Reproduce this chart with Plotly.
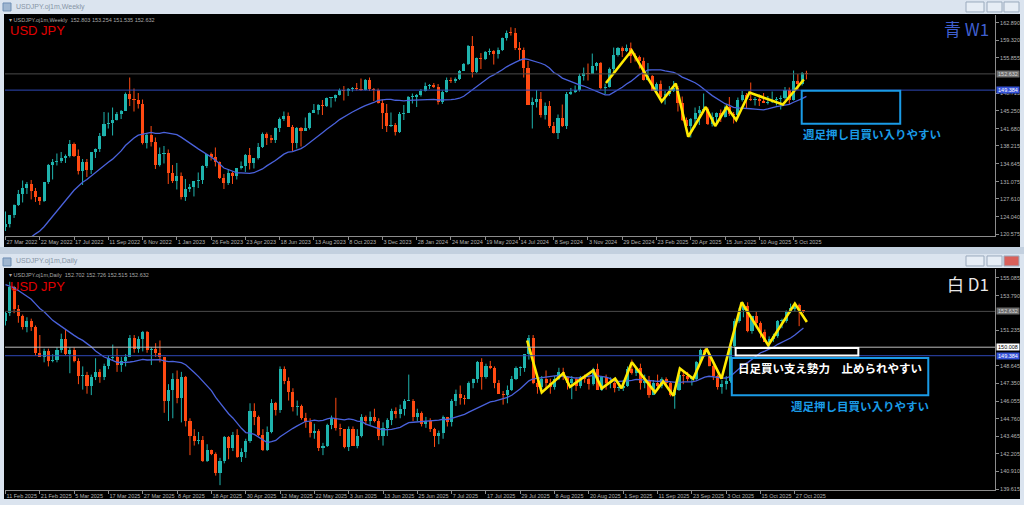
import plotly.graph_objects as go
import pandas as pd

W, H = 1024, 505

# ---------------- Weekly USDJPY (week of 27 Mar 2022 ... 26 Oct 2025) ----------------
w_open = [122.0,122.5,124.3,126.4,128.5,129.8,130.6,129.2,127.9,127.1,
          130.9,134.4,135.0,135.2,135.7,136.1,138.6,136.1,133.2,135.0,
          133.4,136.9,137.6,140.2,142.6,142.9,143.4,144.7,145.3,148.7,
          147.7,147.5,146.6,138.8,140.4,139.1,134.3,136.6,136.7,132.8,
          131.1,132.1,127.9,129.6,129.9,131.2,131.4,134.1,136.5,135.9,
          135.0,131.8,130.7,132.8,132.2,133.8,134.2,136.3,134.8,135.7,
          137.9,140.6,139.9,139.4,141.8,143.7,144.3,142.1,138.8,141.8,
          141.2,141.8,144.9,145.4,146.4,146.2,147.8,147.8,148.4,149.4,
          149.3,149.6,149.9,149.6,149.4,151.5,149.6,149.4,146.8,144.9,
          142.2,142.4,141.0,144.6,144.9,148.1,148.1,148.4,149.3,150.2,
          150.5,150.1,147.1,149.0,151.4,151.3,151.6,153.3,154.6,158.3,
          153.0,155.8,155.6,157.0,157.3,156.7,157.4,159.8,160.9,160.8,
          157.9,157.5,153.8,146.5,147.0,147.6,144.4,146.2,142.3,140.8,
          143.9,142.2,148.7,149.1,149.5,152.3,152.9,152.6,154.3,154.8,
          149.8,150.0,153.6,156.4,157.8,157.3,157.8,156.3,156.0,155.2,
          151.4,152.3,149.3,150.6,148.0,148.6,149.3,149.8,146.9,143.5,
          142.2,143.6,144.9,145.4,145.7,142.6,144.0,144.9,144.1,146.1,
          144.6,144.5,147.4,148.5,147.7,147.4,147.7,147.2,146.9,147.0,
          147.4,147.7,147.9,149.5,147.5,151.2,150.6,152.803]
w_high = [125.1,124.4,126.5,129.4,131.3,131.0,131.4,129.8,128.0,131.0,
          134.6,135.6,136.7,137.0,136.5,139.4,138.9,137.5,135.6,135.6,
          137.0,137.7,140.8,145.0,144.9,145.9,145.0,145.4,148.9,151.9,
          149.7,148.8,147.5,140.8,142.2,139.9,137.9,138.2,137.5,134.4,
          134.8,132.9,131.6,130.6,131.2,132.9,134.3,136.5,136.9,137.9,
          135.1,132.6,133.6,133.0,133.8,135.1,136.6,137.8,135.8,138.8,
          140.9,140.9,140.4,141.9,143.9,145.1,144.9,142.4,142.0,142.0,
          143.9,144.9,146.6,146.6,147.4,147.9,147.9,148.5,149.7,150.2,
          149.8,150.0,150.8,151.7,151.6,151.9,149.8,149.7,147.5,146.6,
          144.9,142.8,145.0,146.4,148.2,148.7,148.6,149.6,150.9,150.6,
          150.8,150.6,149.3,151.9,151.9,151.9,153.4,154.8,158.4,160.2,
          155.9,156.8,157.2,157.7,157.4,157.9,159.9,161.3,161.95,161.8,
          159.0,157.9,155.2,147.9,149.4,149.0,146.9,147.2,143.0,144.5,
          146.5,149.0,149.8,150.3,152.7,153.9,154.7,156.7,155.0,155.0,
          150.7,153.9,157.9,158.0,158.1,158.5,158.9,156.8,156.3,155.9,
          154.8,152.4,150.9,151.3,149.2,150.2,151.2,150.2,148.1,143.9,
          143.8,145.9,146.2,148.7,145.9,144.9,144.9,145.5,146.3,148.0,
          145.0,147.9,149.2,148.8,150.9,148.0,148.5,148.8,148.2,149.1,
          148.0,148.3,150.0,149.9,153.3,152.6,153.0,153.254]
w_low = [121.2,121.9,123.8,126.2,126.9,128.6,127.5,127.0,126.4,127.0,
         130.6,131.5,134.3,134.8,134.8,135.9,136.0,132.5,130.4,132.0,
         132.6,135.8,137.0,140.1,141.7,140.3,143.3,143.6,145.2,146.2,
         145.1,145.7,138.5,137.7,138.1,133.6,134.1,134.7,130.6,130.8,
         129.5,127.5,127.2,129.0,128.1,129.8,130.6,133.8,135.3,134.1,
         131.6,129.6,130.4,130.6,131.5,133.5,133.0,133.5,133.7,135.5,
         137.8,138.4,138.8,138.8,141.0,143.2,142.1,137.2,137.7,138.1,
         141.2,141.5,144.8,144.5,144.4,146.0,145.9,147.1,148.3,147.3,
         148.2,149.1,149.3,149.2,149.3,149.2,147.2,146.7,141.6,141.0,
         142.0,140.3,140.8,143.4,144.8,146.7,146.0,148.1,149.1,149.6,
         149.8,146.5,146.6,148.9,150.8,150.8,151.4,153.2,154.4,151.9,
         152.8,153.6,155.4,156.4,154.5,155.7,157.2,159.3,160.3,157.4,
         155.4,151.9,146.4,141.7,145.9,143.9,143.5,141.8,140.7,139.6,
         142.0,141.6,148.4,148.8,149.1,151.3,151.3,152.6,153.3,149.5,
         148.6,149.9,152.8,156.1,156.0,157.0,154.8,155.1,153.7,151.3,
         151.3,149.3,148.6,147.3,146.5,148.2,149.0,145.1,143.2,141.6,
         139.9,141.9,142.4,145.1,142.4,142.1,142.4,143.0,143.9,144.2,
         142.7,144.2,147.1,145.8,147.2,146.3,146.2,146.9,146.5,146.8,
         146.3,145.5,147.5,146.6,147.3,149.4,150.3,151.535]
w_close = [122.5,124.3,126.4,128.5,129.8,130.6,129.2,127.9,127.1,130.9,
           134.4,135.0,135.2,135.7,136.1,138.6,136.1,133.2,135.0,133.4,
           136.9,137.6,140.2,142.6,142.9,143.4,144.7,145.3,148.7,147.7,
           147.5,146.6,138.8,140.4,139.1,134.3,136.6,136.7,132.8,131.1,
           132.1,127.9,129.6,129.9,131.2,131.4,134.1,136.5,135.9,135.0,
           131.8,130.7,132.8,132.2,133.8,134.2,136.3,134.8,135.7,137.9,
           140.6,139.9,139.4,141.8,143.7,144.3,142.1,138.8,141.8,141.2,
           141.8,144.9,145.4,146.4,146.2,147.8,147.8,148.4,149.4,149.3,
           149.6,149.9,149.6,149.4,151.5,149.6,149.4,146.8,144.9,142.2,
           142.4,141.0,144.6,144.9,148.1,148.1,148.4,149.3,150.2,150.5,
           150.1,147.1,149.0,151.4,151.3,151.6,153.3,154.6,158.3,153.0,
           155.8,155.6,157.0,157.3,156.7,157.4,159.8,160.9,160.8,157.9,
           157.5,153.8,146.5,147.0,147.6,144.4,146.2,142.3,140.8,143.9,
           142.2,148.7,149.1,149.5,152.3,152.9,152.6,154.3,154.8,149.8,
           150.0,153.6,156.4,157.8,157.3,157.8,156.3,156.0,155.2,151.4,
           152.3,149.3,150.6,148.0,148.6,149.3,149.8,146.9,143.5,142.2,
           143.6,144.9,145.4,145.7,142.6,144.0,144.9,144.1,146.1,144.6,
           144.5,147.4,148.5,147.7,147.4,147.7,147.2,146.9,147.0,147.4,
           147.7,147.9,149.5,147.5,151.2,150.6,152.9,152.632]
# closes of the 19 weeks before the first visible bar (feed the 20-period MA)
w_pre_close = [114.0,113.4,112.8,113.4,113.7,114.4,115.1,115.5,114.2,113.7,
               115.2,115.2,115.4,115.0,115.6,114.8,117.3,119.2,122.05]
w_ticktext = ["27 Mar 2022","22 May 2022","17 Jul 2022","11 Sep 2022","6 Nov 2022",
              "1 Jan 2023","26 Feb 2023","23 Apr 2023","18 Jun 2023","13 Aug 2023",
              "8 Oct 2023","3 Dec 2023","28 Jan 2024","24 Mar 2024","19 May 2024",
              "14 Jul 2024","8 Sep 2024","3 Nov 2024","29 Dec 2024","23 Feb 2025",
              "20 Apr 2025","15 Jun 2025","10 Aug 2025","5 Oct 2025"]
w_price_ticks = [162.890,159.320,155.855,148.715,145.250,141.680,138.215,
                 134.645,131.075,127.610,124.040,120.575]

# ---------------- Daily USDJPY (11 Feb 2025 ... 29 Oct 2025) ----------------
d_open = [151.9,152.5,154.4,152.8,152.3,151.5,151.9,151.5,149.6,149.3,
          149.7,149.0,149.1,149.8,150.6,149.5,149.8,149.0,147.9,148.0,
          147.2,147.8,148.2,147.8,148.6,149.2,149.3,148.7,149.0,149.3,
          150.7,149.9,150.6,151.1,149.8,149.9,149.6,149.3,146.1,146.9,
          147.7,146.3,147.8,144.6,143.5,143.1,143.2,141.7,142.5,142.2,
          140.8,141.7,143.4,142.6,143.6,142.0,142.3,143.1,145.3,144.9,
          143.6,142.5,143.8,145.9,145.4,148.4,147.5,146.7,145.6,145.7,
          144.8,144.5,143.7,143.9,142.6,142.8,144.3,144.8,144.1,144.0,
          142.7,144.0,142.8,143.5,144.9,144.6,144.9,144.6,143.5,144.1,
          144.7,145.3,145.1,145.5,146.1,146.1,144.9,145.2,144.4,144.6,
          144.0,143.5,143.7,144.9,144.5,146.1,146.6,146.3,146.2,147.4,
          147.7,148.9,147.8,148.6,148.5,147.4,146.6,146.5,146.9,147.7,
          148.5,148.5,149.5,150.7,147.4,147.1,147.7,147.4,147.1,147.7,
          148.2,147.8,147.4,147.7,147.2,147.8,147.7,147.3,148.4,146.9,
          147.8,147.4,147.4,147.0,147.0,147.2,148.4,148.1,148.5,147.4,
          147.5,146.5,147.4,147.2,147.7,147.4,146.5,146.9,148.0,147.9,
          147.7,147.7,148.9,149.8,149.5,148.6,147.9,147.1,147.3,147.5,
          150.1,151.9,152.7,153.0,151.2,152.3,151.8,151.1,150.4,150.6,
          150.8,151.9,151.9,152.6,152.803,153.1,152.702]
d_high = [152.6,154.8,154.5,153.1,152.4,152.2,152.1,151.6,150.9,149.9,
          149.9,149.5,150.0,151.0,151.3,150.0,150.0,149.2,148.6,148.2,
          148.0,149.2,148.4,148.8,149.4,150.2,149.9,149.3,149.5,150.9,
          150.9,150.8,151.2,151.2,150.0,150.3,150.5,149.3,147.3,148.1,
          148.3,148.2,147.9,144.8,144.0,143.8,143.5,142.9,142.5,142.3,
          141.9,143.5,143.5,143.8,144.0,142.6,143.3,145.9,145.9,145.0,
          144.0,144.2,146.2,146.0,148.6,148.6,147.8,147.0,146.1,145.8,
          145.2,144.8,144.4,144.0,143.0,144.4,145.0,146.3,144.4,144.0,
          144.2,144.2,144.0,145.1,145.0,145.3,145.5,144.8,144.5,144.8,
          145.5,145.6,145.8,146.2,148.0,146.2,145.5,145.3,144.9,144.8,
          144.1,143.9,145.0,144.9,146.2,146.9,147.2,146.5,147.5,147.7,
          149.0,149.2,148.8,149.0,148.6,147.6,146.8,147.2,147.9,148.6,
          148.6,149.5,150.9,150.9,147.7,147.9,148.3,147.7,147.9,148.5,
          148.5,147.9,147.9,147.8,147.9,148.0,147.8,148.5,148.8,147.9,
          148.0,147.8,147.5,147.4,147.6,148.6,149.1,148.5,148.8,148.0,
          147.9,147.6,148.0,147.8,147.8,147.5,147.0,148.1,148.3,148.2,
          147.9,149.0,149.9,149.9,149.6,148.9,148.0,147.6,147.9,150.5,
          152.1,152.9,153.3,153.3,152.3,152.6,151.9,151.3,150.8,151.0,
          152.0,152.1,152.7,153.2,153.27,153.2,152.726]
d_low = [151.6,152.3,152.5,151.8,151.3,151.1,151.2,149.4,149.3,148.9,
         148.6,148.9,148.9,149.6,149.4,148.1,148.9,147.3,146.9,146.6,
         146.5,147.6,147.4,147.6,148.4,149.0,148.2,148.2,148.6,149.3,
         149.6,149.6,149.7,149.6,148.7,149.3,148.9,145.2,144.6,144.8,
         145.9,144.5,144.2,142.1,142.8,142.9,141.6,141.6,142.1,140.6,
         139.9,141.5,141.8,142.4,141.9,141.6,141.9,143.0,144.3,143.5,
         142.4,142.4,143.7,145.0,145.2,147.3,146.1,145.3,145.0,144.7,
         144.1,143.4,143.3,142.4,142.1,142.7,144.0,143.9,143.5,142.6,
         142.4,142.8,142.6,143.4,144.3,144.3,144.5,143.2,142.8,143.5,
         144.3,144.8,144.8,145.0,146.1,144.6,144.6,144.2,144.1,143.8,
         142.7,142.9,143.3,144.2,144.2,145.7,145.8,145.8,146.2,147.0,
         147.4,146.9,147.7,148.4,147.0,146.6,145.8,145.9,146.8,147.6,
         147.9,148.2,149.1,147.3,146.6,146.9,147.0,146.6,146.9,147.6,
         147.6,146.9,146.2,146.8,147.0,147.4,146.9,147.2,146.9,146.8,
         146.9,147.0,146.7,146.8,146.8,147.1,148.0,147.9,146.9,147.0,
         146.3,146.5,147.0,147.0,147.2,146.4,145.5,146.8,147.3,147.5,
         147.2,147.6,148.8,149.3,148.6,147.6,146.9,146.6,146.9,147.4,
         149.9,151.8,152.2,151.1,151.0,151.4,150.7,150.4,149.9,150.4,
         150.7,151.4,151.8,152.5,152.6,151.55,152.515]
d_close = [152.5,154.4,152.8,152.3,151.5,151.9,151.5,149.6,149.3,149.7,
           149.0,149.1,149.8,150.6,149.5,149.8,149.0,147.9,148.0,147.2,
           147.8,148.2,147.8,148.6,149.2,149.3,148.7,149.0,149.3,150.7,
           149.9,150.6,151.1,149.8,149.9,149.6,149.3,146.1,146.9,147.7,
           146.3,147.8,144.6,143.5,143.1,143.2,141.7,142.5,142.2,140.8,
           141.7,143.4,142.6,143.6,142.0,142.3,143.1,145.3,144.9,143.6,
           142.5,143.8,145.9,145.4,148.4,147.5,146.7,145.6,145.7,144.8,
           144.5,143.7,143.9,142.6,142.8,144.3,144.8,144.1,144.0,142.7,
           144.0,142.8,143.5,144.9,144.6,144.9,144.6,143.5,144.1,144.7,
           145.3,145.1,145.5,146.1,146.1,144.9,145.2,144.4,144.6,144.0,
           143.5,143.7,144.9,144.5,146.1,146.6,146.3,146.2,147.4,147.7,
           148.9,147.8,148.6,148.5,147.4,146.6,146.5,146.9,147.7,148.5,
           148.5,149.5,150.7,147.4,147.1,147.7,147.4,147.1,147.7,148.2,
           147.8,147.4,147.7,147.2,147.8,147.7,147.3,148.4,146.9,147.8,
           147.4,147.4,147.0,147.0,147.2,148.4,148.1,148.5,147.4,147.5,
           146.5,147.4,147.2,147.7,147.4,146.5,146.9,148.0,147.9,147.7,
           147.7,148.9,149.8,149.5,148.6,147.9,147.1,147.3,147.5,150.1,
           151.9,152.7,153.0,151.2,152.3,151.8,151.1,150.4,150.6,150.8,
           151.9,151.9,152.6,152.9,153.1,152.7,152.632]
d_pre_close = [156.5,155.2,156.3,155.6,155.5,156.6,156.5,156.0,154.5,155.5,
               155.2,154.2,155.2,154.4,154.3,152.6,151.9,151.4,151.9]
d_ticktext = ["11 Feb 2025","21 Feb 2025","5 Mar 2025","17 Mar 2025","27 Mar 2025",
              "8 Apr 2025","18 Apr 2025","30 Apr 2025","12 May 2025","22 May 2025",
              "3 Jun 2025","13 Jun 2025","25 Jun 2025","7 Jul 2025","17 Jul 2025",
              "29 Jul 2025","8 Aug 2025","20 Aug 2025","1 Sep 2025","11 Sep 2025",
              "23 Sep 2025","3 Oct 2025","15 Oct 2025","27 Oct 2025"]
d_price_ticks = [155.085,153.790,151.235,148.645,147.350,146.055,
                 144.760,143.465,142.205,140.910,139.615]

# hand-drawn zigzag lines (bar index, price)
w_zz_idx = [140.2,146.2,153.2,156.5,159.4,163.5,165.7,168.4,170.6,173.7,181.5,186.4]
w_zz_px = [150.8,157.3,147.1,150.7,140.05,146.0,142.2,146.0,143.4,148.9,146.5,151.5]
d_zz_idx = [121.6,125.0,130.0,131.6,137.0,139.0,142.1,143.6,146.0,151.4,153.3,155.7,
            157.2,160.3,163.4,166.9,171.6,177.8,184.0,186.8]
d_zz_px = [150.5,146.7,148.1,147.1,148.3,147.0,147.7,147.0,148.9,146.7,147.5,146.45,
           148.45,147.7,149.9,147.7,153.3,150.15,153.2,151.85]

# horizontal price levels
last_price = 152.632
blue_level = 149.384
white_level = 150.008

# ---------------- styling ----------------
UP = "#1fb3ad"
DN = "#ff4a12"
MA_C = "#4a62dc"
YEL = "#ffea00"
BOXBLUE = "#1a9be6"
CHROME = "#dbe4ef"
AXTXT = "#b4b4b4"

def fx(px):
    return px / W

def fy(py):
    return 1 - py / H

fig = go.Figure()


def add_candles(o, h, l, c, xa, ya, minh):
    idx = list(range(len(o)))
    up = [i for i in idx if c[i] >= o[i]]
    dn = [i for i in idx if c[i] < o[i]]
    for sel, col in ((up, UP), (dn, DN)):
        wx, wy = [], []
        for i in sel:
            wx += [i, i, None]
            wy += [l[i], h[i], None]
        fig.add_trace(go.Scatter(x=wx, y=wy, mode="lines", line=dict(color=col, width=1),
                                 xaxis=xa, yaxis=ya, hoverinfo="skip", showlegend=False))
        fig.add_trace(go.Bar(x=sel, y=[max(abs(c[i] - o[i]), minh) for i in sel],
                             base=[min(o[i], c[i]) for i in sel], width=0.72,
                             marker=dict(color=col, line=dict(width=0)),
                             xaxis=xa, yaxis=ya, hoverinfo="skip", showlegend=False))


add_candles(w_open, w_high, w_low, w_close, "x", "y", 0.2)
add_candles(d_open, d_high, d_low, d_close, "x2", "y2", 0.075)

w_ma = pd.Series(w_pre_close + w_close).rolling(20).mean().iloc[len(w_pre_close):].tolist()
d_ma = pd.Series(d_pre_close + d_close).rolling(20).mean().iloc[len(d_pre_close):].tolist()
fig.add_trace(go.Scatter(x=list(range(len(w_ma))), y=w_ma, mode="lines",
                         line=dict(color=MA_C, width=1.3), xaxis="x", yaxis="y",
                         hoverinfo="skip", showlegend=False))
fig.add_trace(go.Scatter(x=list(range(len(d_ma))), y=d_ma, mode="lines",
                         line=dict(color=MA_C, width=1.3), xaxis="x2", yaxis="y2",
                         hoverinfo="skip", showlegend=False))

fig.add_trace(go.Scatter(x=w_zz_idx, y=w_zz_px, mode="lines",
                         line=dict(color=YEL, width=2.6), xaxis="x", yaxis="y",
                         hoverinfo="skip", showlegend=False))
fig.add_trace(go.Scatter(x=d_zz_idx, y=d_zz_px, mode="lines",
                         line=dict(color=YEL, width=2.6), xaxis="x2", yaxis="y2",
                         hoverinfo="skip", showlegend=False))

# ---------------- axes ----------------
PX_W, PX_D = 4.283, 4.29
X0, XL, XR = 5.5, 5, 995
w_xr = [(XL - X0) / PX_W, (XR - X0) / PX_W]
d_xr = [(XL - X0) / PX_D, (XR - X0) / PX_D]

common_x = dict(showgrid=False, zeroline=False, showline=True, linecolor="#8c8c8c", linewidth=1,
                ticks="outside", ticklen=3, tickcolor="#8c8c8c", tickwidth=1, tickangle=0,
                ticklabelposition="outside right", tickfont=dict(size=5.5, color=AXTXT),
                fixedrange=True)
common_y = dict(showgrid=False, zeroline=False, showline=True, linecolor="#8c8c8c", linewidth=1,
                side="right", ticks="outside", ticklen=3, tickcolor="#8c8c8c",
                tickfont=dict(size=5.5, color=AXTXT), fixedrange=True)

fig.update_layout(
    xaxis=dict(domain=[fx(XL), fx(XR)], range=w_xr, anchor="y",
               tickvals=list(range(0, 8 * len(w_ticktext), 8)), ticktext=w_ticktext, **common_x),
    yaxis=dict(domain=[fy(237), fy(15)], range=[120.176, 164.426], anchor="x",
               tickvals=w_price_ticks, ticktext=["%.3f" % v for v in w_price_ticks], **common_y),
    xaxis2=dict(domain=[fx(XL), fx(XR)], range=d_xr, anchor="y2",
                tickvals=list(range(0, 8 * len(d_ticktext), 8)), ticktext=d_ticktext, **common_x),
    yaxis2=dict(domain=[fy(492), fy(270)], range=[139.542, 155.742], anchor="x2",
                tickvals=d_price_ticks, ticktext=["%.3f" % v for v in d_price_ticks], **common_y),
)

shapes = []
# window chrome / black chart areas
shapes.append(dict(type="rect", xref="paper", yref="paper", x0=fx(4), x1=fx(1020), y0=fy(248), y1=fy(14),
                   fillcolor="black", line=dict(width=0), layer="below"))
shapes.append(dict(type="rect", xref="paper", yref="paper", x0=fx(4), x1=fx(1020), y0=fy(501), y1=fy(269),
                   fillcolor="black", line=dict(width=0), layer="below"))
shapes.append(dict(type="rect", xref="paper", yref="paper", x0=0, x1=1, y0=fy(255), y1=fy(248),
                   fillcolor="#c3d0df", line=dict(width=0), layer="below"))
# title-bar icons
for ty in (2, 258):
    shapes.append(dict(type="rect", xref="paper", yref="paper", x0=fx(3), x1=fx(11), y0=fy(ty + 9), y1=fy(ty + 1),
                       fillcolor="#9fb6d0", line=dict(color="#6f8fb5", width=1), layer="below"))
# window buttons
for ty, red in ((2, False), (257, True)):
    for i, (bx0, bx1) in enumerate(((966, 984), (987, 1002), (1004, 1019))):
        fill = "#d9605a" if (red and i == 2) else "#e6edf5"
        shapes.append(dict(type="rect", xref="paper", yref="paper", x0=fx(bx0), x1=fx(bx1),
                           y0=fy(ty + 10), y1=fy(ty), fillcolor=fill,
                           line=dict(color="#9aaabd", width=1), layer="below"))
# horizontal levels
shapes.append(dict(type="line", xref="x domain", yref="y", x0=0, x1=1, y0=last_price, y1=last_price,
                   line=dict(color="#4a4a4a", width=1)))
shapes.append(dict(type="line", xref="x domain", yref="y", x0=0, x1=1, y0=blue_level, y1=blue_level,
                   line=dict(color="#2f48b8", width=1)))
shapes.append(dict(type="line", xref="x2 domain", yref="y2", x0=0, x1=1, y0=last_price, y1=last_price,
                   line=dict(color="#4a4a4a", width=1)))
shapes.append(dict(type="line", xref="x2 domain", yref="y2", x0=0, x1=1, y0=white_level, y1=white_level,
                   line=dict(color="#bdbdbd", width=1)))
shapes.append(dict(type="line", xref="x2 domain", yref="y2", x0=0, x1=1, y0=blue_level, y1=blue_level,
                   line=dict(color="#2f48b8", width=1)))
# drawn boxes
shapes.append(dict(type="rect", xref="x", yref="y", x0=185.9, x1=208.9, y0=142.64, y1=149.28,
                   line=dict(color=BOXBLUE, width=2)))
shapes.append(dict(type="rect", xref="x2", yref="y2", x0=170.2, x1=198.8, y0=149.40, y1=149.95,
                   line=dict(color="white", width=2)))
shapes.append(dict(type="rect", xref="x2", yref="y2", x0=169.3, x1=215.1, y0=146.49, y1=149.22,
                   line=dict(color=BOXBLUE, width=2)))
fig.update_layout(shapes=shapes)

ann = []
JP = "Noto Sans CJK JP"


def text(x, y, s, size, color, xanchor="left", family="Liberation Sans"):
    ann.append(dict(x=fx(x), y=fy(y), xref="paper", yref="paper", text=s, showarrow=False,
                    xanchor=xanchor, yanchor="middle", font=dict(size=size, color=color, family=family)))


text(14, 7, "USDJPY.oj1m,Weekly", 7, "#8794a6")
text(14, 262, "USDJPY.oj1m,Daily", 7, "#8794a6")
text(7, 20, "▾ USDJPY.oj1m,Weekly  152.803 153.254 151.535 152.632", 5.5, "#a8a8a8")
text(7, 276, "▾ USDJPY.oj1m,Daily  152.702 152.726 152.515 152.632", 5.5, "#a8a8a8")
text(8, 31, "USD JPY", 13, "#e00000")
text(8, 288, "USD JPY", 13, "#e00000")
text(991, 29, "青 W1", 17, "#3f5fcf", xanchor="right", family=JP)
text(991, 285, "白 D1", 17, "#e8e8e8", xanchor="right", family=JP)
text(801, 135, "<b>週足押し目買い入りやすい</b>", 11.5, BOXBLUE, family=JP)
text(736, 369, "<b>日足買い支え勢力　止められやすい</b>", 11.5, "white", family=JP)
text(789, 408, "<b>週足押し目買い入りやすい</b>", 11.5, BOXBLUE, family=JP)


def pricebox(yref, val, bg, fg):
    ann.append(dict(x=fx(996), y=val, xref="paper", yref=yref, text="%.3f" % val, showarrow=False,
                    xanchor="left", yanchor="middle", bgcolor=bg, width=22, height=6, borderpad=0,
                    font=dict(size=5.5, color=fg, family="Liberation Sans")))


pricebox("y", last_price, "#6e6e6e", "#d8d8d8")
pricebox("y", blue_level, "#3553d8", "white")
pricebox("y2", last_price, "#6e6e6e", "#d8d8d8")
pricebox("y2", white_level, "white", "black")
pricebox("y2", blue_level, "#3553d8", "white")
fig.update_layout(annotations=ann)

fig.update_layout(width=W, height=H, autosize=False, margin=dict(l=0, r=0, t=0, b=0, pad=0),
                  paper_bgcolor=CHROME, plot_bgcolor="black", barmode="overlay", bargap=0,
                  showlegend=False, font=dict(family="Liberation Sans"))

fig.write_html("out.html", config={"displayModeBar": False, "staticPlot": True},
               post_script="document.body.style.margin='0';document.body.style.overflow='hidden';")
